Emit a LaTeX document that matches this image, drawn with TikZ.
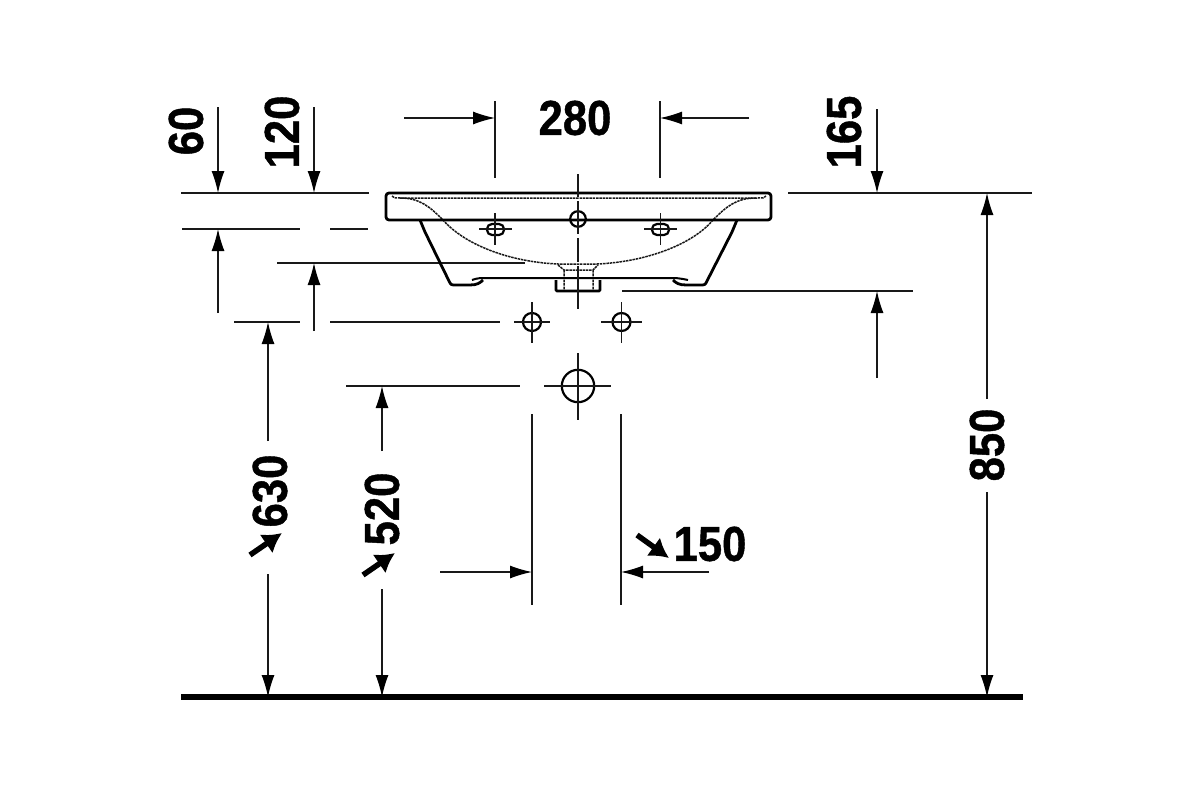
\documentclass[tikz,border=0pt]{standalone}
\usepackage{fontspec}
\setmainfont{Liberation Sans}[BoldFeatures={FakeBold=1.0}]
\usetikzlibrary{arrows.meta}
\tikzset{
  thin line/.style={line width=1.2pt,black!90},
  thick line/.style={line width=2.8pt,black,line join=round},
  hidden/.style={line width=1.5pt,black!90,dash pattern=on 2.5pt off .8pt},
  centre/.style={line width=1.3pt,black!90},
  hole/.style={line width=2.2pt,black},
  dimarrow/.style={line width=1.2pt,black!90,-{Latex[length=22pt,width=13pt,black]}},
  diamarrow/.style={line width=5.5pt,black,-{Latex[length=19pt,width=23pt]}},
  dimtext/.style={font=\bfseries\fontsize{49}{49}\selectfont,xscale=.89,inner sep=0pt,text=black},
}
\begin{document}
\begin{tikzpicture}[x=1pt,y=-1pt]
\useasboundingbox (0,0) rectangle (1200,800);
% extension lines
\draw[thin line] (181,193)--(369,193) (182,229)--(300,229) (330,229)--(368,229)
  (277,263)--(525,263) (234,322)--(300,322) (330,322)--(500,322) (346,386)--(520,386)
  (788,193)--(1032,193) (622,291)--(913,291)
  (495,101)--(495,178) (660,101)--(660,178) (532,414)--(532,605) (621,414)--(621,605);
% dimension arrows
\draw[dimarrow] (218,107)--(218,193);
\draw[dimarrow] (314,107)--(314,193);
\draw[dimarrow] (877,109)--(877,193);
\draw[dimarrow] (218,313)--(218,229);
\draw[dimarrow] (314,331)--(314,263);
\draw[dimarrow] (877,378)--(877,291);
\draw[dimarrow] (404,118)--(495,118);
\draw[dimarrow] (749,118)--(660,118);
\draw[dimarrow] (440,572)--(532,572);
\draw[dimarrow] (709,572)--(621,572);
\draw[dimarrow] (268,441)--(268,322);
\draw[dimarrow] (268,574)--(268,697);
\draw[dimarrow] (382,451)--(382,386);
\draw[dimarrow] (382,589)--(382,697);
\draw[dimarrow] (987,399)--(987,193);
\draw[dimarrow] (987,492)--(987,697);
% diameter arrows
\draw[diamarrow] (250,555)--(282,533);
\draw[diamarrow] (363,575)--(395,553);
\draw[diamarrow] (637,535)--(669,558);
% labels
\node[rotate=90,dimtext] (l60) at (186,131) {60};
\node[rotate=90,dimtext] (l120) at (282,132) {120};
\node[rotate=90,dimtext] (l165) at (844,132) {165};
\node[dimtext] (l280) at (575,118) {280};
\node[rotate=90,dimtext] (l630) at (270,491) {630};
\node[rotate=90,dimtext] (l520) at (382,509) {520};
\node[dimtext] (l150) at (710,544) {150};
\node[rotate=90,dimtext] (l850) at (987,445) {850};
% ground
\draw[line width=6pt,black] (181,697)--(1023,697);
% basin hidden lines
\draw[hidden] (392,196) .. controls (394,198) .. (400,198) -- (758,198) .. controls (764,198) .. (766,196);
\draw[hidden] (400,198) .. controls (420,198) and (430,207) .. (443,220)
  .. controls (465,245) and (510,262) .. (558,264) -- (597,264)
  .. controls (645,262) and (692,245) .. (713,220)
  .. controls (726,207) and (736,198) .. (756,198);
\draw[hidden] (558,265)--(564,270)--(593,270)--(598,265) (564,270)--(564,290) (593,270)--(593,290);
% basin outline
\draw[thick line,rounded corners=3pt,fill=none] (386,193) rectangle (771,220);
\draw[thick line] (420,220)--(425,232)--(449,281) .. controls (451,285) .. (456,285) -- (470,285) .. controls (477,285) and (480,283) .. (483,280);
\draw[thick line] (737,220)--(732,232)--(707,281) .. controls (705,285) .. (700,285) -- (686,285) .. controls (679,285) and (676,283) .. (673,280);
\draw[line width=2pt,black] (472,280) .. controls (478,278) .. (493,278) -- (665,278) .. controls (678,278) .. (688,280);
\draw[thick line,rounded corners=1pt] (556,280)--(556,291)--(600,291)--(600,280);
% slots and holes
\draw[hole,rounded corners=5pt] (487,224) rectangle (504,235);
\draw[hole,rounded corners=5pt] (652,224) rectangle (669,235);
\draw[hole] (578,219) circle (7.8);
\draw[hole] (532,322) circle (9);
\draw[hole] (621.5,322) circle (9);
\draw[hole] (578,386) circle (16.2);
% centre lines
\draw[centre] (479,229)--(512,229) (495,213)--(495,245)
  (644,229)--(677,229) (660.5,213)--(660.5,245)
  (578,174)--(578,197) (578,201)--(578,234) (578,238)--(578,262) (578,266)--(578,309)
  (514,322)--(550,322) (532,302)--(532,343)
  (601,322)--(642,322) (621.5,302)--(621.5,343)
  (544,386)--(611,386) (578,353)--(578,420);
\end{tikzpicture}
\end{document}
